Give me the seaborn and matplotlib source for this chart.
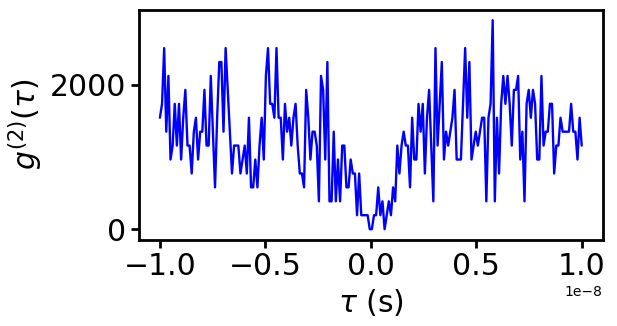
import numpy as np
import pandas as pd
import matplotlib
matplotlib.use("Agg")
import matplotlib.pyplot as plt
import seaborn as sns

# time axis: 200 bins from -10 ns to +10 ns
tau_inicio = -1e-8
tau_fin = 1e-8
n_bins = 200

# g2 values, bin by bin
g2 = [
    1541, 1733, 2504, 1348, 2119, 963, 1156, 1733, 1156, 1733,
    963, 1541, 1926, 1156, 1156, 770, 1348, 1541, 963, 1348,
    1348, 1926, 1156, 1156, 2119, 1348, 578, 1541, 2311, 2311,
    1348, 2504, 1926, 1348, 770, 1156, 1156, 1156, 770, 963,
    1156, 770, 1541, 578, 578, 963, 578, 1156, 1541, 963,
    2119, 2504, 1733, 1733, 1541, 2504, 1541, 1541, 963, 1733,
    1348, 1541, 1156, 1541, 1733, 1156, 770, 770, 578, 1926,
    1541, 963, 1348, 1348, 1156, 385, 2119, 1926, 963, 2311,
    385, 385, 1348, 385, 963, 385, 1156, 1156, 578, 578,
    963, 770, 770, 193, 770, 193, 193, 193, 193, 0,
    0, 193, 193, 578, 193, 385, 0, 193, 385, 193,
    578, 385, 1156, 770, 1156, 1348, 1156, 1156, 578, 1541,
    963, 963, 1733, 1348, 1733, 770, 1541, 1926, 1156, 385,
    2504, 1156, 1733, 2311, 963, 1348, 1156, 1348, 1541, 1926,
    963, 963, 963, 1733, 2504, 1541, 2311, 963, 1156, 1348,
    1156, 1348, 1541, 1541, 385, 1541, 1733, 2889, 385, 1541,
    770, 1733, 2119, 1733, 2119, 1733, 1156, 1926, 1926, 2119,
    963, 1348, 385, 1733, 1926, 1541, 1926, 1733, 963, 963,
    2119, 1156, 1348, 1348, 1733, 1733, 770, 1156, 1156, 1541,
    1348, 1348, 1348, 1348, 1733, 1348, 1348, 963, 1541, 1156,
]

df = pd.DataFrame({
    'tau': np.linspace(tau_inicio, tau_fin, n_bins),
    'g2': g2,
})

sns.set_style("ticks")
plt.rcParams['font.family'] = ['DejaVu Sans']
plt.rcParams['text.color'] = 'black'
plt.rcParams['axes.labelcolor'] = 'black'

fig = plt.figure(figsize=(6.17, 3.26), dpi=100)
ax = fig.add_axes([0.225, 0.265, 0.752, 0.705])

sns.lineplot(data=df, x='tau', y='g2', color='blue', linewidth=1.7, ax=ax)

ax.set_xlabel(r"$\tau$ (s)", fontsize=21.5, color='black')
ax.set_ylabel(r"$g^{(2)}(\tau)$", fontsize=21.5, color='black')
ax.set_yticks([0, 2000])
ax.tick_params(axis='both', labelsize=21.5, length=5.5, width=2, colors='black')
ax.xaxis.get_offset_text().set_fontsize(10)
ax.xaxis.get_offset_text().set_color('black')
for s in ax.spines.values():
    s.set_linewidth(2)
    s.set_color('black')

fig.savefig("out.png", dpi=100)
